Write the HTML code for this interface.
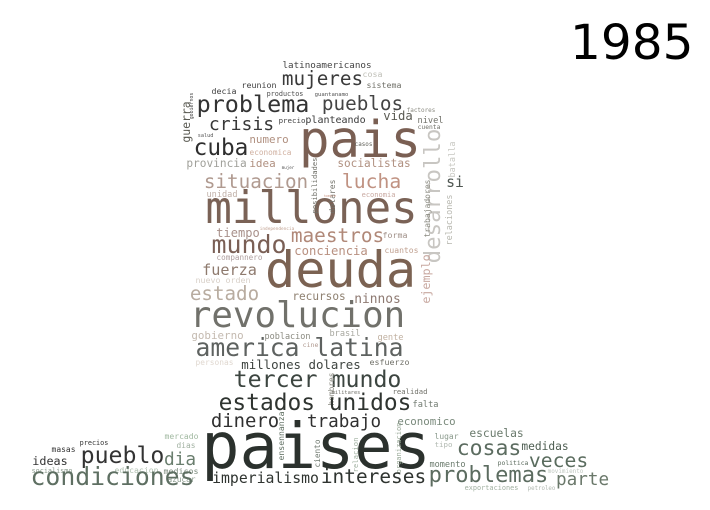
<!DOCTYPE html>
<html><head><meta charset="utf-8"><style>
html,body{margin:0;padding:0;background:#fff;}
svg{display:block;}
text{font-family:"DejaVu Sans Mono","Liberation Mono",monospace;}
</style></head><body>
<svg id="cloud" width="710" height="510" viewBox="0 0 710 510">
<rect width="710" height="510" fill="#fff"/>
<text x="570" y="59" style="font-family:'DejaVu Sans','Liberation Sans',sans-serif" font-size="48.5" fill="#000">1985</text>
</svg>
<script>
// word, visible x0, x1, baseline, color, vertical(1)
const words = [
["paises",205,427,468,"#2b312d",0],
["millones",208,415,223,"#7a6256",0],
["pais",302,418,157,"#7a5f53",0],
["deuda",268,413,287,"#7b6252",0],
["revolucion",192,403,327,"#71716b",0],
["desarrollo",262,130,440,"#c8c6c2",1],
["problema",198,308,112,"#333333",0],
["pueblos",323,402,110,"#444444",0],
["mujeres",283,362,85,"#3a3a3a",0],
["crisis",210,273,130,"#383838",0],
["cuba",195,247,155,"#2e2e2e",0],
["situacion",205,307,188,"#b09a90",0],
["lucha",343,400,188,"#c09282",0],
["si",447,463,187,"#4e5651",0],
["mundo",213,285,253,"#7a5f55",0],
["maestros",292,383,242,"#b08878",0],
["tiempo",217,259,237,"#a8908a",0],
["independencia",260,294,230,"#c0a090",0],
["conciencia",295,367,255,"#b89080",0],
["forma",383,407,238,"#a09088",0],
["cuantos",385,418,253,"#c0a090",0],
["compannero",217,262,260,"#b0a0a0",0],
["fuerza",203,256,275,"#8e7a6e",0],
["nuevo orden",196,250,283,"#d8d0c8",0],
["estado",191,258,300,"#b8aca0",0],
["recursos",293,345,300,"#8e8070",0],
["ninnos",355,400,303,"#8e7a72",0],
["ejemplo",303,255,430,"#c8a8a0",1],
["gobierno",192,243,339,"#c4bab0",0],
["poblacion",265,310,339,"#8a8a80",0],
["brasil",330,360,336,"#a8a8a0",0],
["gente",378,403,340,"#c0b0a0",0],
["cine",303,318,347,"#b09a90",0],
["america latina",197,402,356,"#5e6260",0],
["personas",196,233,365,"#e0d8d0",0],
["millones dolares",242,360,369,"#3e4440",0],
["esfuerzo",370,409,365,"#707068",0],
["tercer mundo",235,400,387,"#3c4540",0],
["hombres",405,373,334,"#8a8a80",1],
["militares",332,360,394,"#707068",0],
["realidad",393,427,394,"#707068",0],
["estados unidos",220,410,410,"#2f3430",0],
["falta",413,438,407,"#707a70",0],
["dinero",212,278,427,"#303030",0],
["trabajo",308,380,427,"#303030",0],
["economico",398,455,425,"#7a8a7c",0],
["ensennanza",460,412,284,"#5a6a5c",1],
["ciento",467,440,320,"#707a70",1],
["relacion",472,438,358,"#a0b0a0",1],
["organizacion",473,423,401,"#9aaa98",1],
["imperialismo",213,318,483,"#2f3430",0],
["intereses",322,425,483,"#2f3430",0],
["problemas",430,547,482,"#5c6c60",0],
["parte",557,608,485,"#6a786a",0],
["cosas",458,520,455,"#5c6c60",0],
["veces",530,587,467,"#5a6c5e",0],
["medidas",522,568,450,"#4e5e52",0],
["escuelas",470,523,437,"#6a7a6c",0],
["lugar",435,458,439,"#8a9a8c",0],
["tipo",435,452,447,"#b0b8b0",0],
["momento",430,465,467,"#6a7a6c",0],
["politica",498,528,465,"#5a6a5c",0],
["movimiento",548,583,473,"#c0c8c0",0],
["exportaciones",465,518,490,"#a0b0a0",0],
["petroleo",528,555,490,"#b0b8b0",0],
["mercado",165,198,439,"#a0b8a0",0],
["dias",177,195,448,"#a0b0a0",0],
["precios",80,108,445,"#333333",0],
["masas",52,75,452,"#333333",0],
["ideas",33,67,465,"#333333",0],
["socialismo",32,72,473,"#8a9a8c",0],
["educacion",115,158,473,"#b0c0b0",0],
["medicos",164,198,474,"#7a8a7c",0],
["azucar",168,195,482,"#8a9a8c",0],
["pueblo",82,163,463,"#333333",0],
["dia",165,195,465,"#6a7e6e",0],
["condiciones",32,193,485,"#5e6f62",0],
["latinoamericanos",283,371,68,"#444444",0],
["cosa",363,382,77,"#c0c0b8",0],
["reunion",242,276,88,"#404040",0],
["decia",212,236,94,"#404040",0],
["productos",267,303,96,"#505050",0],
["guantanamo",315,348,96,"#505050",0],
["sistema",367,401,88,"#707068",0],
["factores",407,435,112,"#8a8a80",0],
["nivel",418,443,123,"#707068",0],
["cuenta",418,440,129,"#707068",0],
["precio",279,305,123,"#404040",0],
["planteando",306,365,123,"#3a3a3a",0],
["vida",384,412,120,"#5a5a52",0],
["guerra",142,102,190,"#5a5a52",1],
["gobiernos",119,93,193,"#404040",1],
["salud",198,213,137,"#505050",0],
["numero",250,288,143,"#b09080",0],
["economica",250,291,155,"#d0b0a0",0],
["casos",355,372,146,"#606058",0],
["provincia",187,246,167,"#a0a09a",0],
["idea",250,275,167,"#b09080",0],
["mujer",282,294,169,"#505050",0],
["posibilidades",213,158,317,"#707068",1],
["dolares",213,180,335,"#707068",1],
["socialistas",338,410,167,"#b09080",0],
["batalla",177,142,455,"#c8c8c2",1],
["trabajadores",237,180,430,"#8a8a80",1],
["relaciones",245,195,452,"#b8b8b0",1],
["unidad",207,237,197,"#c0b0a8",0],
["hombre",324,336,197,"#d0a090",0],
["economia",362,395,197,"#c8a8a0",0]
];
const svg = document.getElementById('cloud');
const NS = 'http://www.w3.org/2000/svg';
words.forEach(function(w){
  const n = w[0].length;
  const span = Math.abs(w[2]-w[1]);
  const size = span / (n*0.602 - 0.12);
  const t = document.createElementNS(NS,'text');
  
  
  t.setAttribute('font-size', size.toFixed(2));
  t.setAttribute('fill', w[4]);
  t.setAttribute('textLength', (n*0.602*size).toFixed(2));
  t.setAttribute('lengthAdjust', 'spacingAndGlyphs');
  t.setAttribute('x', (-0.06*size).toFixed(2));
  t.setAttribute('y', 0);
  if (w[5]) {
    t.setAttribute('transform', 'translate(' + w[3] + ',' + w[1] + ') rotate(-90)');
  } else {
    t.setAttribute('transform', 'translate(' + w[1] + ',' + w[3] + ')');
  }
  t.textContent = w[0];
  svg.appendChild(t);
});
</script>
</body></html>
